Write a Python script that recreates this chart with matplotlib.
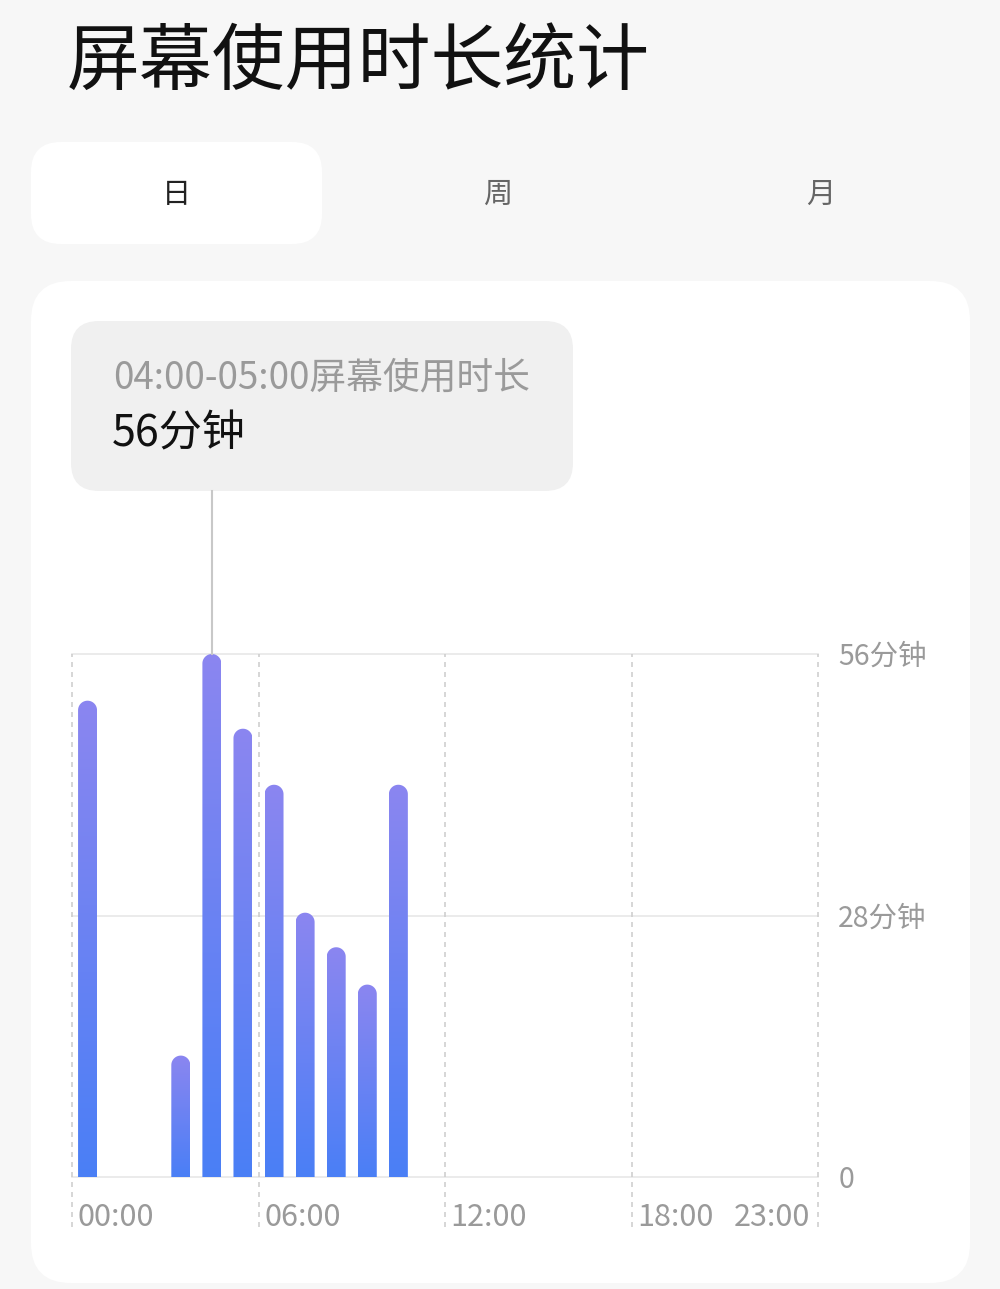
import numpy as np
import matplotlib
matplotlib.use("Agg")
import matplotlib.pyplot as plt
from matplotlib.patches import FancyBboxPatch, PathPatch
from matplotlib.path import Path
from matplotlib.colors import LinearSegmentedColormap

plt.rcParams['font.family'] = ['Noto Sans CJK SC', 'DejaVu Sans']

# ---- data ----
title = "屏幕使用时长统计"
tabs = ["日", "周", "月"]
hours = [0, 3, 4, 5, 6, 7, 8, 9, 10]
minutes = [51, 13, 56, 48, 42, 28.3, 24.6, 20.6, 42]
y_ticks = [0, 28, 56]
y_tick_labels = ["0", "28分钟", "56分钟"]
x_ticks = [0, 6, 12, 18, 23]
x_tick_labels = ["00:00", "06:00", "12:00", "18:00", "23:00"]
tooltip_title = "04:00-05:00屏幕使用时长"
tooltip_value = "56分钟"
selected_hour = 4

W, H = 1000, 1289
fig = plt.figure(figsize=(W / 100, H / 100), dpi=100)
fig.patch.set_facecolor("#f7f7f7")

# background layer in pixel coordinates
bg = fig.add_axes([0, 0, 1, 1])
bg.set_xlim(0, W)
bg.set_ylim(H, 0)
bg.axis("off")

bg.text(67, 63, title, fontsize=52.5, color="#111111", va="center", ha="left")

# tab pill
bg.add_patch(FancyBboxPatch((31 + 30, 142 + 30), 291 - 60, 102 - 60,
                            boxstyle="round,pad=30", fc="white", ec="none"))
for t, cx, col in zip(tabs, [176, 498, 821], ["#222222", "#666666", "#666666"]):
    bg.text(cx, 195, t, fontsize=21, color=col, ha="center", va="center")

# card
bg.add_patch(FancyBboxPatch((31 + 40, 281 + 40), 939 - 80, 1002 - 80,
                            boxstyle="round,pad=40", fc="white", ec="none"))

# tooltip
bg.add_patch(FancyBboxPatch((71 + 28, 321 + 28), 502 - 56, 170 - 56,
                            boxstyle="round,pad=28", fc="#f0f0f0", ec="none"))
bg.text(113, 378, tooltip_title, fontsize=26.5, color="#9a9a9a", ha="left", va="center")
bg.text(112, 434, tooltip_value, fontsize=31, color="#111111", ha="left", va="center")

# chart axes
x0p, x1p, y0p, y1p = 72, 818, 1177, 654
ax = fig.add_axes([x0p / W, 1 - y0p / H, (x1p - x0p) / W, (y0p - y1p) / H])
ax.set_facecolor("none")
ax.set_xlim(0, 24)
ax.set_ylim(0, 56)
for s in ax.spines.values():
    s.set_visible(False)
ax.tick_params(length=0)
ax.set_xticks([])
ax.set_yticks([])

# gridlines
for yv in y_ticks:
    ax.plot([0, 24], [yv, yv], color="#e8e8e8", lw=1.2, zorder=1, clip_on=False)
for xv in [0, 6, 12, 18, 24]:
    ax.plot([xv, xv], [-5.4, 56], color="#cfcfcf", lw=1.2, ls=(0, (3, 3)),
            zorder=1, clip_on=False)

# bars with gradient + rounded top
px_per_x = (x1p - x0p) / 24.0
px_per_y = (y0p - y1p) / 56.0
bw = 0.61
rx = bw / 2
ry = rx * px_per_x / px_per_y
cmap = LinearSegmentedColormap.from_list("g", ["#4a7ff6", "#8b86f0"])
grad = np.linspace(0, 1, 256).reshape(-1, 1)
for h, m in zip(hours, minutes):
    cx = h + 0.5
    th = np.linspace(0, np.pi, 40)
    verts = [(cx + rx, 0), (cx + rx, m - ry)]
    verts += [(cx + rx * np.cos(t), m - ry + ry * np.sin(t)) for t in th]
    verts += [(cx - rx, 0), (cx + rx, 0)]
    codes = [Path.MOVETO] + [Path.LINETO] * (len(verts) - 2) + [Path.CLOSEPOLY]
    patch = PathPatch(Path(verts, codes), fc="none", ec="none")
    ax.add_patch(patch)
    im = ax.imshow(grad, extent=[cx - rx, cx + rx, 0, m], origin="lower",
                   cmap=cmap, aspect="auto", zorder=2)
    im.set_clip_path(patch)

ax.set_xlim(0, 24)
ax.set_ylim(0, 56)

# tooltip connector line
sel_val = minutes[hours.index(selected_hour)]
top_data = (y0p - 491) / px_per_y
ax.plot([selected_hour + 0.5] * 2, [sel_val, top_data], color="#c8c8c8", lw=1.5,
        clip_on=False, zorder=3)

# x tick labels
for xv, lab in zip(x_ticks, x_tick_labels):
    if lab == "23:00":
        ax.text(23.75, -4.3, lab, fontsize=22, color="#9a9a9a", ha="right", va="center")
    else:
        ax.text(xv + 0.18, -4.3, lab, fontsize=22, color="#9a9a9a", ha="left", va="center")

# y tick labels
for yv, lab in zip(y_ticks, y_tick_labels):
    ax.text(24.65, yv - 0.3, lab, fontsize=20.5, color="#9a9a9a", ha="left", va="center")

fig.savefig("out.png", dpi=100, facecolor=fig.get_facecolor())
